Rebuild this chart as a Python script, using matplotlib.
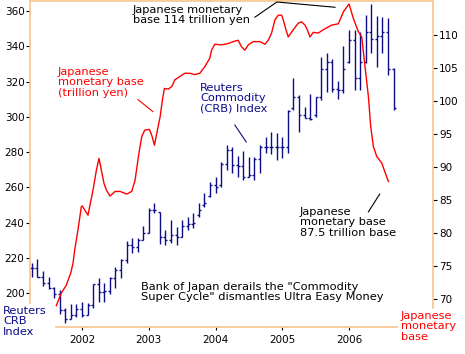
import matplotlib
matplotlib.use("Agg")
import matplotlib.pyplot as plt
import numpy as np

# Reuters CRB index, monthly bars from April 2001
crb_start = 2001.25
crb_high = [217, 219.5, 212.7, 209.3, 203.6, 201.7, 191.3, 193.6, 193.6, 195.1,
            194.2, 205.1, 208.3, 205.5, 209, 214.9, 219.5, 229.5, 231, 231,
            238, 248, 250.9, 246.1, 235.7, 241.4, 237.6, 241.4, 243.3, 245.6,
            250.9, 256.6, 263.2, 266, 274.5, 284, 283, 277.7, 280.8, 277.3,
            277.3, 284, 288.7, 291.5, 290.6, 288.7, 303.8, 321.8, 312.3, 305.7,
            312.7, 311.4, 334.1, 336.4, 332.6, 320.3, 340.1, 349.2, 349.2, 348.3,
            357.7, 364, 357.2, 356.8, 355.8, 327.8]
crb_low = [209, 209, 204.2, 202.3, 197, 188, 182.8, 185.3, 186.6, 186.6,
           187.5, 191.7, 195.1, 195, 199.4, 203, 208.3, 216.9, 222.5, 223,
           230, 233.8, 245.2, 227.8, 227.2, 228.2, 227.2, 232, 235.7, 236.6,
           243.3, 249, 254.7, 256.6, 260.3, 269.8, 268, 266, 264.1, 266,
           264.1, 268.3, 279.3, 278.9, 275.5, 276.4, 279.3, 303.8, 291.5, 299.1,
           298.2, 300, 309.5, 314.2, 314.2, 310, 313.3, 330.7, 315.2, 315.2,
           330.3, 336, 328.4, 336, 323.7, 303.8]
crb_open = [214, 214, 209.3, 205.5, 202.7, 199.4, 190.4, 185.3, 187.5, 191,
            187.5, 193, 205, 200.7, 201, 208.3, 213, 219, 227, 226,
            230, 234, 247, 246, 232, 230, 233, 232, 238, 239,
            244, 250, 255, 261, 261, 273, 281, 272.5, 272, 266,
            267, 276, 283, 283, 283, 283, 283, 305, 311, 301,
            299.5, 301, 311, 327, 331, 315.5, 315, 331, 343.6, 322,
            331, 348, 344, 346, 348, 327]
crb_close = [214, 209.3, 205.5, 202.7, 199.4, 190.4, 185.3, 187.5, 191, 187.5,
             193, 205, 200.7, 201, 208.3, 213, 219, 227, 226, 230,
             234, 247, 247, 232, 230, 233, 232, 238, 239, 240,
             247, 251, 261, 260, 273, 281, 272.5, 272, 266, 267,
             276, 283, 283, 283, 283, 283, 303, 311, 301, 299.5,
             299, 311, 327, 331, 315.5, 315, 327, 343.6, 322, 331,
             348, 344, 346, 348, 327, 305]

# Japanese monetary base (trillion yen)
mb_year = [2001.615, 2001.69, 2001.765, 2001.83, 2001.865, 2001.89, 2001.94, 2001.99,
           2002.005, 2002.04, 2002.09, 2002.115, 2002.165, 2002.215, 2002.255, 2002.29,
           2002.33, 2002.365, 2002.42, 2002.495, 2002.57, 2002.67, 2002.745, 2002.795,
           2002.845, 2002.895, 2002.94, 2003.01, 2003.045, 2003.085, 2003.12, 2003.17,
           2003.205, 2003.235, 2003.295, 2003.345, 2003.39, 2003.465, 2003.54, 2003.615,
           2003.69, 2003.765, 2003.84, 2003.915, 2003.94, 2003.99, 2004.09, 2004.19,
           2004.265, 2004.34, 2004.39, 2004.44, 2004.49, 2004.565, 2004.665, 2004.74,
           2004.79, 2004.84, 2004.89, 2004.94, 2004.99, 2005.015, 2005.055, 2005.09,
           2005.165, 2005.24, 2005.29, 2005.34, 2005.375, 2005.415, 2005.465, 2005.54,
           2005.615, 2005.74, 2005.84, 2005.915, 2006.0, 2006.065, 2006.14, 2006.19,
           2006.24, 2006.29, 2006.325, 2006.365, 2006.415, 2006.49, 2006.565, 2006.59]
mb_value = [69.0, 70.9, 72.1, 73.9, 75.4, 77.4, 80.5, 84.0,
            84.1, 83.5, 82.7, 84.0, 86.5, 89.5, 91.3, 89.5,
            87.5, 86.5, 85.6, 86.3, 86.3, 85.9, 86.3, 88.0,
            91.6, 94.6, 95.6, 95.7, 94.8, 93.3, 95.1, 97.6,
            100.2, 101.9, 101.8, 102.2, 103.2, 103.7, 104.2, 104.2,
            104.0, 104.2, 105.2, 106.5, 107.7, 108.6, 108.5, 108.7,
            109.0, 109.2, 108.2, 107.7, 108.5, 109.0, 109.0, 108.6,
            109.2, 110.3, 112.3, 113.0, 113.0, 112.3, 110.8, 109.7,
            110.8, 111.8, 112.0, 111.5, 110.8, 109.7, 110.4, 110.3,
            110.8, 111.5, 111.7, 113.5, 114.7, 112.5, 110.5, 109.7,
            105.2, 100.7, 96.1, 93.1, 91.6, 90.6, 88.5, 87.8]

years = [2002, 2003, 2004, 2005, 2006]
left_ticks = [200, 220, 240, 260, 280, 300, 320, 340, 360]
right_ticks = [70, 75, 80, 85, 90, 95, 100, 105, 110]

NAVY = "#0c0c8a"
RED = "#ff0000"
EDGE = "#f8c48e"
W, H = 465, 354

plt.rcParams["font.family"] = "DejaVu Sans"
fig = plt.figure(figsize=(W / 100, H / 100), dpi=100)
ax = fig.add_axes([30 / W, 1 - 327 / H, 403 / W, 326 / H])
ax2 = ax.twinx()

# CRB OHLC bars
x = crb_start + np.arange(len(crb_high)) / 12
tick = 0.03
ax.vlines(x, crb_low, crb_high, color=NAVY, lw=1.0)
ax.hlines(crb_open, x - tick, x, color=NAVY, lw=1.0)
ax.hlines(crb_close, x, x + tick, color=NAVY, lw=1.0)

ax2.plot(mb_year, mb_value, color=RED, lw=1.0)

ax.set_xlim(2001.221, 2007.258)
ax.set_ylim(180.7, 365.7)
ax2.set_ylim(65.76, 115.15)

ax.set_xticks(years)
ax.set_xticklabels([str(y) for y in years])
ax.set_yticks(left_ticks)
ax2.set_yticks(right_ticks)
ax.tick_params(axis="x", length=2.5, width=0.8, pad=3, labelsize=7.5)
ax.tick_params(axis="y", length=3, width=0.8, pad=1, labelsize=7.5)
ax2.tick_params(axis="y", length=3, width=0.8, pad=1.5, labelsize=7.5)

for sp in ax.spines.values():
    sp.set_color(EDGE)
    sp.set_linewidth(1.2)
for sp in ax2.spines.values():
    sp.set_visible(False)
ax.spines["right"].set_visible(False)
ax.spines["left"].set_bounds(194.3, 365.7)
ax.spines["bottom"].set_bounds(2001.61, 2006.72)
ax2.spines["right"].set_visible(True)
ax2.spines["right"].set_color(EDGE)
ax2.spines["right"].set_linewidth(1.2)
ax2.spines["right"].set_bounds(68.6, 115.15)

# leader lines
ax2.plot([2004.59, 2004.92, 2005.79], [112.7, 115.0, 114.2], color="black", lw=0.8, clip_on=False)
ax2.plot([2002.84, 2003.06], [100.2, 98.4], color=RED, lw=0.8)
ax.plot([2004.29, 2004.46], [295.3, 285.7], color=NAVY, lw=0.8)
ax2.plot([2006.29, 2006.46], [83.2, 85.9], color="black", lw=0.8)

fs = 8.2


def label(px, py, s, color="black"):
    fig.text(px / W, 1 - py / H, s, color=color, fontsize=fs, ha="left", va="top",
             linespacing=1.05)


label(133, 5, "Japanese monetary\nbase 114 trillion yen")
label(58, 67, "Japanese\nmonetary base\n(trillion yen)", RED)
label(200, 83, "Reuters\nCommodity\n(CRB) Index", NAVY)
label(300, 207, "Japanese\nmonetary base\n87.5 trillion base")
label(141, 282, "Bank of Japan derails the \"Commodity\nSuper Cycle\" dismantles Ultra Easy Money")
label(3, 306, "Reuters\nCRB\nIndex", NAVY)
label(401, 311, "Japanese\nmonetary\nbase", RED)

fig.savefig("out.png", dpi=100)
